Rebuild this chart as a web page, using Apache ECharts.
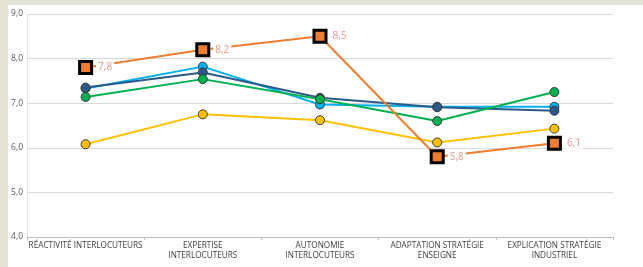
<!DOCTYPE html>
<html><head><meta charset="utf-8">
<script src="https://cdn.jsdelivr.net/npm/echarts@6/dist/echarts.min.js"></script>
<style>
html,body{margin:0;padding:0;background:#e4e4d6;width:643px;height:267px;overflow:hidden}
#c{position:absolute;left:8px;top:5px;width:635px;height:262px;background:#fff}
</style></head><body>
<div id="c"></div>
<script>
const categories = ["RÉACTIVITÉ INTERLOCUTEURS","EXPERTISE\nINTERLOCUTEURS","AUTONOMIE\nINTERLOCUTEURS","ADAPTATION STRATÉGIE\nENSEIGNE","EXPLICATION STRATÉGIE\nINDUSTRIEL"];
const yellowVals = [6.08, 6.75, 6.62, 6.12, 6.43];
const lightBlueVals = [7.33, 7.82, 6.97, 6.92, 6.92];
const darkBlueVals = [7.35, 7.69, 7.12, 6.91, 6.83];
const greenVals = [7.14, 7.54, 7.09, 6.60, 7.25];
const orangeVals = [7.8, 8.2, 8.5, 5.8, 6.1];

function circ(name, data, color){
  return {name, type:'line', data, symbol:'circle', symbolSize:9,
    lineStyle:{color, width:2}, itemStyle:{color, borderColor:'#3a3a3a', borderWidth:1},
    emphasis:{disabled:true}, z:2};
}
const chart = echarts.init(document.getElementById('c'));
chart.setOption({
  animation:false,
  grid:{left:19, right:30, top:9, bottom:30},
  xAxis:{type:'category', data:categories, boundaryGap:true,
    axisLine:{lineStyle:{color:'#bfbfbf'}},
    axisTick:{show:true, length:3, lineStyle:{color:'#bfbfbf'}},
    axisLabel:{fontSize:8.2, color:'#404040', fontFamily:'Open Sans', margin:4, lineHeight:10, interval:0}},
  yAxis:{type:'value', min:4, max:9, interval:1,
    axisLine:{show:true, lineStyle:{color:'#e3e3e3'}},
    splitLine:{lineStyle:{color:'#d9d9d9'}},
    axisLabel:{fontSize:8.5, color:'#595959', fontFamily:'Open Sans', margin:4,
      formatter:v=>v.toFixed(1).replace('.',',')}},
  series:[
    circ('yellow', yellowVals, '#ffc000'),
    circ('lightblue', lightBlueVals, '#00b0f0'),
    circ('darkblue', darkBlueVals, '#2b5a8a'),
    circ('green', greenVals, '#00b050'),
    {name:'orange', type:'line', data:orangeVals, symbol:'rect', symbolSize:12,
      lineStyle:{color:'#ed7d31', width:2},
      itemStyle:{color:'#ed7d31', borderColor:'#000', borderWidth:3},
      label:{show:true, position:'right', distance:3, fontSize:10, color:'#e8968c',
        fontFamily:'Open Sans', backgroundColor:'#fff', padding:[1,2,0,2],
        formatter:p=>p.value.toFixed(1).replace('.',',')},
      emphasis:{disabled:true}, z:3}
  ]
});
</script></body></html>
